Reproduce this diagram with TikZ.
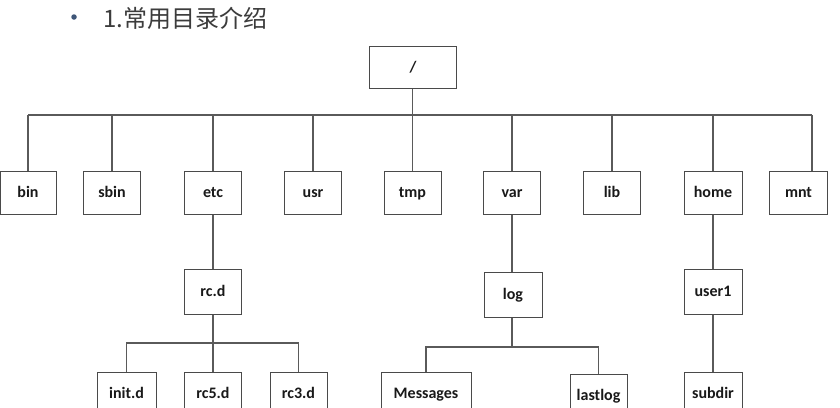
\documentclass[tikz,border=0pt]{standalone}
\usepackage{fontspec}
\setmainfont{Carlito}
\newfontfamily\cjk{Noto Sans CJK SC}
\definecolor{boxc}{HTML}{4A4A4A}
\definecolor{linec}{HTML}{5A5A5A}
\definecolor{titlec}{HTML}{3C3C3C}
\definecolor{bulletc}{HTML}{3E5678}
\begin{document}
\begin{tikzpicture}[x=1pt,y=-1pt,
  box/.style={draw=boxc, line width=1pt, minimum width=57pt, minimum height=43pt,
    inner sep=0pt, text height=12pt, text depth=2pt,
    font=\bfseries\fontsize{16}{16}\selectfont, text=black!90},
  conn/.style={draw=linec, line width=1.1pt}]
\useasboundingbox (0,0) rectangle (840,407);
\fill[white] (0,0) rectangle (840,407);

% title
\node[circle, fill=bulletc, inner sep=0pt, minimum size=5.5pt] (bullet) at (74,17) {};
\node[anchor=base west, inner sep=0pt, text=titlec, font=\cjk\fontsize{24}{24}\selectfont] (title) at (103,27.5) {1.常用目录介绍};

% root
\node[box, minimum width=87pt, minimum height=42pt] (root) at (413,67) {/};

% first level
\node[box, minimum width=56pt] (bin)  at (28,192.5)  {bin};
\node[box] (sbin) at (112,192.5) {sbin};
\node[box] (etc)  at (213,192.5) {etc};
\node[box] (usr)  at (313,192.5) {usr};
\node[box] (tmp)  at (412.5,192.5) {tmp};
\node[box] (var)  at (512,192.5) {var};
\node[box] (lib)  at (612,192.5) {lib};
\node[box, minimum width=58pt] (home) at (713,192.5) {home};
\node[box, minimum width=58pt] (mnt)  at (798.5,192.5) {mnt};

% second level
\node[box, minimum height=45pt] (rcd)   at (213,291.5) {rc.d};
\node[box, minimum height=45pt, minimum width=58pt] (log)   at (513,294.5) {log};
\node[box, minimum height=45pt, minimum width=58pt] (user1) at (713,291.5) {user1};

% third level
\node[box, minimum width=59pt] (initd) at (126.5,393.5) {init.d};
\node[box] (rcfive)  at (213,393.5) {rc5.d};
\node[box] (rcthree) at (298.5,393.5) {rc3.d};
\node[box, minimum width=90pt] (msg) at (426,393.5) {Messages};
\node[box] (lastlog) at (598.5,395.5) {lastlog};
\node[box, minimum width=58pt] (subdir) at (713,393.5) {subdir};

% bus of first level
\coordinate (busL) at (28,115);
\coordinate (busR) at (812,115);
\draw[conn] (busL) -- (busR);
\draw[conn] (tmp.north |- root.south) -- (tmp.north);
\foreach \n in {bin,sbin,etc,usr,var,lib,home}
  \draw[conn] (\n.north) -- (\n.north |- busL);
\draw[conn] (busR) -- (busR |- mnt.north);

% etc branch
\draw[conn] (etc.south) -- (rcd.north);
\coordinate (rbus) at (213,343);
\draw[conn] (rcd.south) -- (rcfive.north);
\draw[conn] (initd.north) |- (rbus) -| (rcthree.north);

% var branch
\draw[conn] (var.south) -- (var.south |- log.north);
\coordinate (lbus) at (512,347);
\draw[conn] (log.south -| lbus) -- (lbus);
\draw[conn] (msg.north) |- (lbus) -| (lastlog.north);

% home branch
\draw[conn] (home.south) -- (user1.north);
\draw[conn] (user1.south) -- (subdir.north);
\end{tikzpicture}
\end{document}
